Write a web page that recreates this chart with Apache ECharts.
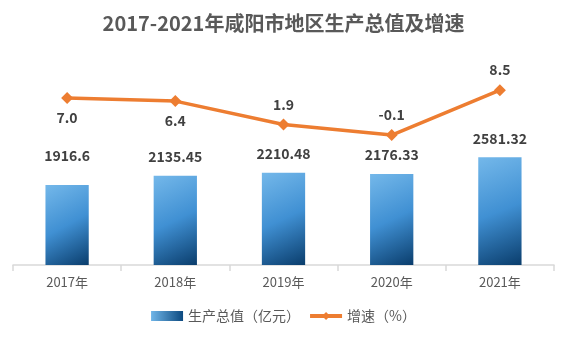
<!DOCTYPE html>
<html><head><meta charset="utf-8">
<script src="https://cdn.jsdelivr.net/npm/echarts@6/dist/echarts.min.js"></script>
<style>html,body{margin:0;padding:0;background:#fff}#c{width:567px;height:338px}</style>
</head><body><div id="c"></div>
<script>
const categories = ['2017年','2018年','2019年','2020年','2021年'];
const gdpValues = [1916.6, 2135.45, 2210.48, 2176.33, 2581.32];
const growthValues = [7.0, 6.4, 1.9, -0.1, 8.5];
const gdpLabels = ['1916.6','2135.45','2210.48','2176.33','2581.32'];
const growthLabels = ['7.0','6.4','1.9','-0.1','8.5'];

const FONT = '"Noto Sans CJK SC", "Open Sans", sans-serif';
const chart = echarts.init(document.getElementById('c'));
const barGrad = new echarts.graphic.LinearGradient(0,0,1,1,[
  {offset:0,color:'#74b8ea'},{offset:0.5,color:'#4090d3'},{offset:1,color:'#0a3d6c'}]);
const legendGrad = new echarts.graphic.LinearGradient(0,0,1,0,[
  {offset:0,color:'#6fb5e8'},{offset:1,color:'#0d4a80'}]);
chart.setOption({
  animation:false,
  textStyle:{fontFamily:FONT},
  title:{text:'2017-2021年咸阳市地区生产总值及增速',left:'center',top:8,
    textStyle:{fontSize:20,fontWeight:'bold',color:'#595959',fontFamily:FONT}},
  legend:{bottom:10,left:'center',itemGap:8,itemWidth:32,itemHeight:10,
    textStyle:{fontSize:14,color:'#595959',fontFamily:FONT},
    data:[{name:'生产总值（亿元）',icon:'rect',itemStyle:{color:legendGrad}},
          {name:'增速（%）',lineStyle:{width:4,color:'#ed7d31'}}]},
  grid:{left:13,right:13,top:4,bottom:73,containLabel:false},
  xAxis:{type:'category',data:categories,
    axisLine:{lineStyle:{color:'#d9d9d9',width:1.5}},
    axisTick:{show:true,length:6,lineStyle:{color:'#d9d9d9',width:1.5}},
    axisLabel:{color:'#595959',fontSize:13,margin:11}},
  yAxis:[{type:'value',min:0,max:6250,show:false,splitLine:{show:false}},
         {type:'value',min:-25,max:25,show:false,splitLine:{show:false}}],
  series:[
    {name:'生产总值（亿元）',type:'bar',barWidth:'40%',yAxisIndex:0,
     itemStyle:{color:barGrad},
     data:gdpValues.map((v,i)=>({value:v,label:{distance:i===0?22:12}})),
     label:{show:true,position:'top',fontSize:14,fontWeight:'bold',color:'#404040',
       formatter:p=>gdpLabels[p.dataIndex]}},
    {name:'增速（%）',type:'line',yAxisIndex:1,symbol:'diamond',symbolSize:12,
     lineStyle:{color:'#ed7d31',width:3.5},itemStyle:{color:'#ed7d31'},
     data:growthValues.map((v,i)=>({value:v,label:{position:i<2?'bottom':'top'}})),
     label:{show:true,fontSize:14,fontWeight:'bold',color:'#404040',distance:7,
       formatter:p=>growthLabels[p.dataIndex]}}
  ]
});
</script></body></html>
